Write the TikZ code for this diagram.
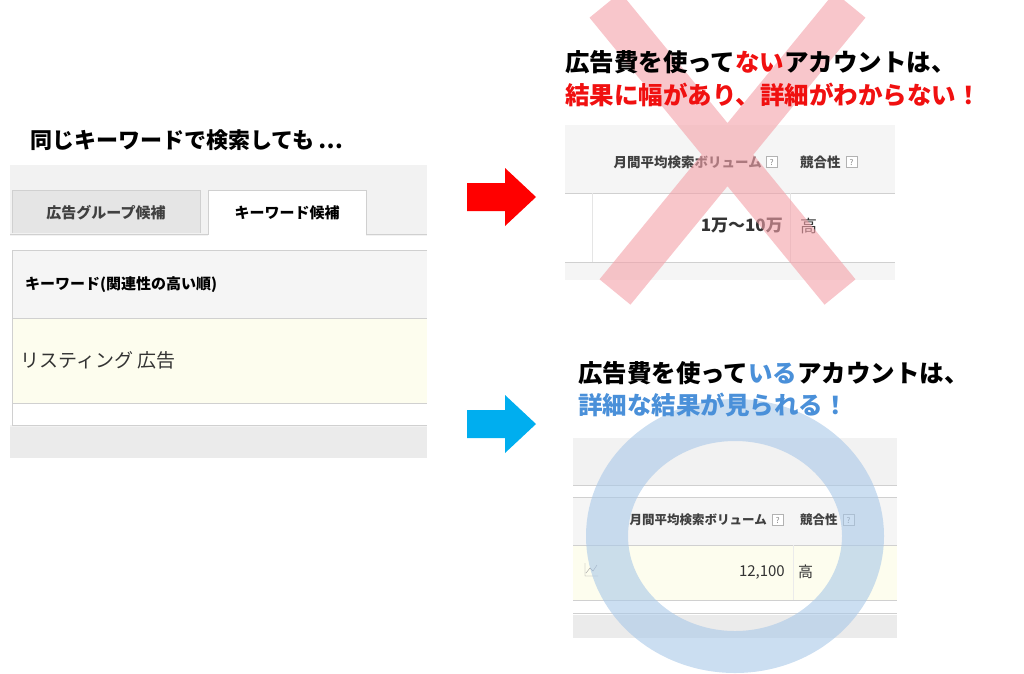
\documentclass[tikz,border=0pt]{standalone}
\usepackage{fontspec}
\setmainfont{Noto Sans CJK JP}
\usetikzlibrary{arrows.meta,positioning}
\definecolor{shotgray}{HTML}{F2F2F2}
\definecolor{headgray}{HTML}{F5F5F5}
\definecolor{rowyellow}{HTML}{FDFDEE}
\definecolor{linegray}{HTML}{D0D0D0}
\definecolor{xred}{HTML}{F4A0A8}
\definecolor{ringblue}{HTML}{A9C8E8}
\definecolor{txtred}{HTML}{F01010}
\definecolor{txtblue}{HTML}{4A90D9}
\definecolor{arrblue}{HTML}{00AEEF}
\tikzset{
  title/.style={anchor=west,font=\fontsize{24.5}{28}\selectfont\bfseries,inner sep=0pt},
  cell/.style={font=\fontsize{15}{17}\selectfont\bfseries,text=black!75,inner sep=0pt},
  val/.style={font=\fontsize{17}{19}\selectfont,text=black!80,inner sep=0pt},
  qbox/.style={draw=black!30,fill=white,minimum size=11pt,inner sep=0pt,font=\fontsize{8}{8}\selectfont,text=black!50},
  fatarrow/.style={fill=#1,draw=none}
}
\begin{document}
\begin{tikzpicture}[x=1pt,y=-1pt]
\useasboundingbox (0,0) rectangle (1024,673);
% left screenshot
\fill[shotgray] (10,165) rectangle (427,458);
\fill[black!10] (12,190) rectangle (200,233);
\draw[linegray] (12,233) -- (12,190) -- (200,190) -- (200,233);
\fill[white] (208,190) rectangle (366,236);
\draw[linegray] (10,234) -- (208,234) -- (208,190) -- (366,190) -- (366,234) -- (427,234);
\fill[white] (10,236) rectangle (427,425);
\fill[headgray] (12,250) rectangle (427,318);
\fill[rowyellow] (12,318) rectangle (427,403);
\draw[linegray] (427,250) -- (12,250) -- (12,425) -- (427,425);
\draw[linegray] (12,318) -- (427,318) (12,403) -- (427,403);
\fill[black!8] (10,427) rectangle (427,458);
\node[cell,anchor=center] (tab1) at (106,213) {広告グループ候補};
\node[cell,anchor=center,text=black] (tab2) at (287,213) {キーワード候補};
\node[cell,anchor=west,text=black] (kwhead) at (25,285) {キーワード(関連性の高い順)};
\node[val,anchor=west,font=\fontsize{19}{21}\selectfont] (kw) at (20,360) {リスティング 広告};
\node[title,font=\fontsize{22}{26}\selectfont\bfseries] (same) at (30,140) {同じキーワードで検索しても\,…};
% arrows
\fill[fatarrow=red] (467,183) -- (505,183) -- (505,168) -- (536,197) -- (505,226) -- (505,211) -- (467,211) -- cycle;
\fill[fatarrow=arrblue] (467,410) -- (505,410) -- (505,395) -- (536,424) -- (505,453) -- (505,438) -- (467,438) -- cycle;
% top right screenshot
\fill[headgray] (565,125) rectangle (895,193);
\fill[white] (565,193) rectangle (895,262);
\draw[linegray] (565,193) -- (895,193) (565,262) -- (895,262);
\draw[black!10] (592,193) -- (592,262) (790,193) -- (790,262);
\fill[black!4] (565,263) rectangle (895,280);
\node[cell,anchor=east,font=\fontsize{13.5}{15}\selectfont\bfseries] (vol1) at (762,162) {月間平均検索ボリューム};
\node[qbox,right=4pt of vol1] (q1) {?};
\node[cell,anchor=west,font=\fontsize{13.5}{15}\selectfont\bfseries] (comp1) at (800,162) {競合性};
\node[qbox,right=5pt of comp1] (q2) {?};
\node[val,anchor=east,font=\fontsize{17}{19}\selectfont\bfseries] (num1) at (783,226) {1万〜10万};
\node[val,anchor=west,font=\fontsize{17}{19}\selectfont] (hi1) at (800,226) {高};
% red cross
\draw[xred,opacity=0.6,line width=40pt] (605,5) -- (840,292) (850,5) -- (615,292);
% bottom right screenshot
\fill[shotgray] (573,438) rectangle (897,485);
\fill[headgray] (573,497) rectangle (897,545);
\fill[rowyellow] (573,545) rectangle (897,600);
\fill[black!8] (573,615) rectangle (897,638);
\draw[linegray] (573,485) -- (897,485) (573,497) -- (897,497) (573,545) -- (897,545) (573,600) -- (897,600) (573,613) -- (897,613);
\draw[black!8] (793,545) -- (793,600);
\node[cell,anchor=east,font=\fontsize{12.5}{14}\selectfont\bfseries] (vol2) at (767,520) {月間平均検索ボリューム};
\node[qbox,right=5pt of vol2] (q3) {?};
\node[cell,anchor=west,font=\fontsize{12.5}{14}\selectfont\bfseries] (comp2) at (800,520) {競合性};
\node[qbox,right=5pt of comp2] (q4) {?};
\node[val,anchor=east,font=\fontsize{15}{17}\selectfont] (num2) at (785,572) {12,100};
\node[val,anchor=west,font=\fontsize{15}{17}\selectfont] (hi2) at (798,572) {高};
\draw[black!40] (585,563) -- (585,576) -- (598,576) (586,573) -- (590,568) -- (593,571) -- (597,565);
% blue ring
\draw[ringblue,opacity=0.6,line width=42pt] (735,536) ellipse (128 and 116);
% captions
\node[title] (bad1) at (565,62) {広告費を使って\textcolor{txtred}{ない}アカウントは、};
\node[title,text=txtred] (bad2) at (565,95) {結果に幅があり、詳細がわからない！};
\node[title] (good1) at (578,373) {広告費を使って\textcolor{txtblue}{いる}アカウントは、};
\node[title,text=txtblue] (good2) at (578,405) {詳細な結果が見られる！};
\end{tikzpicture}
\end{document}
